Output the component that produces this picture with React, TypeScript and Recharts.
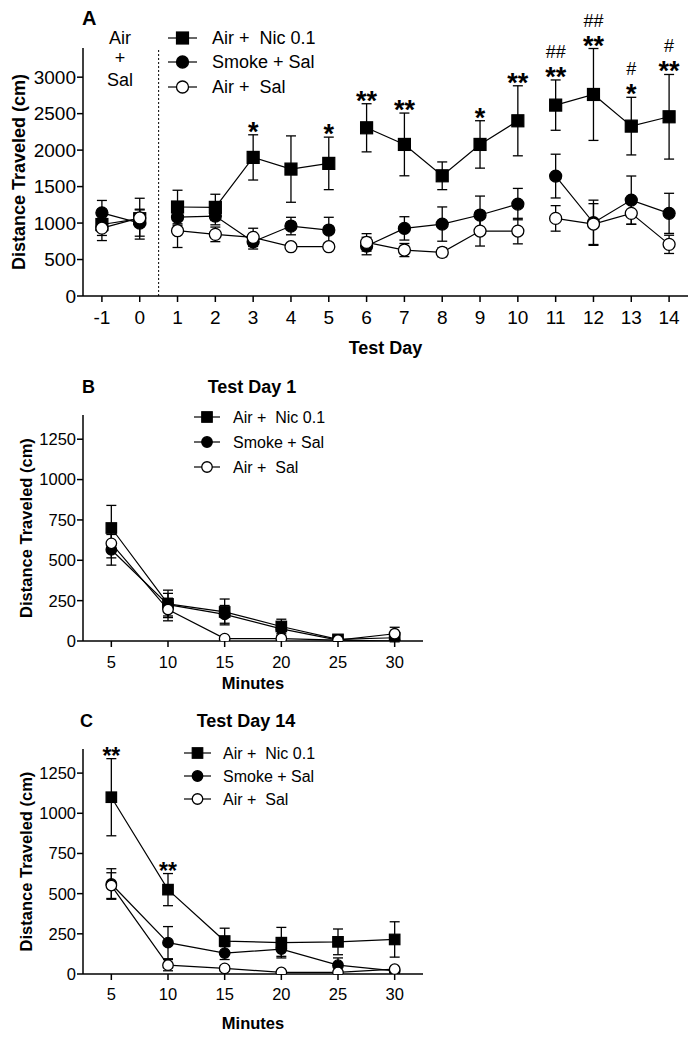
import React from 'react';
import { LineChart, Line, XAxis, YAxis, ErrorBar, ReferenceLine, LabelList, Label } from 'recharts';

const FONT = '"Liberation Sans", Arial, Helvetica, sans-serif';

// ---------- Panel A data ----------
const DAYS = [-1, 0, 1, 2, 3, 4, 5, 6, 7, 8, 9, 10, 11, 12, 13, 14];
const DAY_SEGMENTS = [[-1, 0], [1, 5], [6, 10], [11, 14]];
const NIC_A = [980, 1060, 1220, 1215, 1900, 1740, 1818, 2306, 2078, 1648, 2078, 2402, 2617, 2763, 2329, 2457];
const NIC_A_SEM = [150, 280, 230, 180, 310, 455, 360, 330, 430, 190, 325, 480, 345, 630, 395, 580];
const SMOKE_A = [1140, 1000, 1080, 1096, 744, 959, 904, 685, 927, 986, 1110, 1260, 1644, 1004, 1315, 1133];
const SMOKE_A_SEM = [170, 180, 110, 120, 100, 120, 175, 120, 160, 235, 260, 215, 300, 310, 330, 275];
const AIRSAL_A = [930, 1070, 895, 845, 804, 676, 676, 735, 630, 598, 890, 890, 1064, 986, 1133, 708];
const AIRSAL_A_SEM = [170, 120, 230, 100, 125, 30, 30, 120, 90, 60, 205, 175, 175, 280, 150, 125];
const STARS_A = ['', '', '', '', '*', '', '*', '**', '**', '', '*', '**', '**', '**', '*', '**'];
const HASH_A = ['', '', '', '', '', '', '', '', '', '', '', '', '##', '##', '#', '#'];
const Y_TICKS_A = [0, 500, 1000, 1500, 2000, 2500, 3000];

// ---------- Panel B data (Test Day 1) ----------
const MINUTES = [5, 10, 15, 20, 25, 30];
const NIC_B = [700, 230, 180, 90, 10, 20];
const NIC_B_SEM = [140, 85, 80, 45, 10, 10];
const SMOKE_B = [565, 225, 165, 75, 5, 0];
const SMOKE_B_SEM = [95, 70, 55, 40, 5, 5];
const AIRSAL_B = [605, 195, 15, 15, 5, 45];
const AIRSAL_B_SEM = [90, 70, 10, 10, 5, 40];
const STARS_B = ['', '', '', '', '', ''];

// ---------- Panel C data (Test Day 14) ----------
const NIC_C = [1100, 525, 205, 195, 200, 215];
const NIC_C_SEM = [240, 100, 80, 95, 80, 110];
const SMOKE_C = [560, 195, 130, 155, 55, 20];
const SMOKE_C_SEM = [95, 100, 40, 45, 45, 10];
const AIRSAL_C = [550, 55, 35, 10, 10, 30];
const AIRSAL_C_SEM = [80, 35, 15, 10, 10, 10];
const STARS_C = ['**', '**', '', '', '', ''];
const Y_TICKS_BC = [0, 250, 500, 750, 1000, 1250];

const SERIES_NAMES = ['Air +  Nic 0.1', 'Smoke + Sal', 'Air +  Sal'];
const SERIES = [
  { key: 'nic', shape: 'square', fill: '#000' },
  { key: 'smoke', shape: 'circle', fill: '#000' },
  { key: 'airsal', shape: 'circle', fill: '#fff' },
];

const buildRows = (xs, xKey, nic, nicSem, smoke, smokeSem, airsal, airsalSem, stars, hashes) =>
  xs.map((x, i) => ({
    [xKey]: x,
    nic: nic[i], nicErr: nicSem[i],
    smoke: smoke[i], smokeErr: smokeSem[i],
    airsal: airsal[i], airsalErr: airsalSem[i],
    starY: stars[i] || (hashes && hashes[i]) ? nic[i] + nicSem[i] : null,
    star: stars[i],
    hash: hashes ? hashes[i] : '',
  }));

const rowsA = buildRows(DAYS, 'x', NIC_A, NIC_A_SEM, SMOKE_A, SMOKE_A_SEM, AIRSAL_A, AIRSAL_A_SEM, STARS_A, HASH_A);
const segmentsA = DAY_SEGMENTS.map(([a, b]) => rowsA.filter((r) => r.x >= a && r.x <= b));
const rowsB = buildRows(MINUTES, 'x', NIC_B, NIC_B_SEM, SMOKE_B, SMOKE_B_SEM, AIRSAL_B, AIRSAL_B_SEM, STARS_B, null);
const rowsC = buildRows(MINUTES, 'x', NIC_C, NIC_C_SEM, SMOKE_C, SMOKE_C_SEM, AIRSAL_C, AIRSAL_C_SEM, STARS_C, null);

const makeDot = (shape, fill, size, tag) => (props) => {
  const { cx, cy, index } = props;
  const k = `${tag}-${index}`;
  if (cx == null || cy == null || isNaN(cy)) return <g key={k} />;
  if (shape === 'square')
    return <rect key={k} x={cx - size / 2} y={cy - size / 2} width={size} height={size} fill={fill} stroke="#000" strokeWidth={1.2} />;
  return <circle key={k} cx={cx} cy={cy} r={size / 2} fill={fill} stroke="#000" strokeWidth={1.3} />;
};

const starContent = (fontSize, dy, bold) => (props) => {
  const { x, y, value } = props;
  if (!value || y == null || isNaN(y)) return null;
  return (
    <text x={x} y={y + dy} textAnchor="middle" fontFamily={FONT} fontSize={fontSize} fontWeight={bold ? 'bold' : 'normal'} fill="#000">
      {value}
    </text>
  );
};

const yLabelContent = (cxAbs, size) => (props) => {
  const vb = props.viewBox || {};
  const cy = vb.y + vb.height / 2;
  return (
    <text x={cxAbs} y={cy} transform={`rotate(-90 ${cxAbs} ${cy})`} textAnchor="middle" dominantBaseline="central"
      fontFamily={FONT} fontSize={size} fontWeight="bold" fill="#000">
      Distance Traveled (cm)
    </text>
  );
};

const xLabelContent = (text, dyAbs, size) => (props) => {
  const vb = props.viewBox || {};
  const cx = vb.x + vb.width / 2;
  return (
    <text x={cx} y={vb.y + dyAbs} textAnchor="middle" dominantBaseline="central" fontFamily={FONT} fontSize={size} fontWeight="bold" fill="#000">
      {text}
    </text>
  );
};

function seriesLines(segments, markerSize, tagBase) {
  const out = [];
  SERIES.forEach((s) => {
    segments.forEach((seg, si) => {
      out.push(
        <Line key={`${tagBase}-${s.key}-${si}`} data={seg} dataKey={s.key} type="linear" stroke="#000" strokeWidth={1.2}
          dot={makeDot(s.shape, s.fill, markerSize, `${tagBase}-${s.key}-${si}`)} activeDot={false} isAnimationActive={false} legendType="none">
          <ErrorBar dataKey={`${s.key}Err`} width={5} stroke="#000" strokeWidth={1.3} direction="y" />
        </Line>
      );
    });
  });
  return out;
}

const axisLine = { stroke: '#000', strokeWidth: 1.5 };
const tickLine = { stroke: '#000', strokeWidth: 1.5 };

function PanelA() {
  return (
    <LineChart width={695} height={360} margin={{ top: 48, right: 7, bottom: 24, left: 23 }}>
      <XAxis type="number" dataKey="x" domain={[-1.5, 14.5]} ticks={DAYS} allowDataOverflow
        axisLine={axisLine} tickLine={tickLine} tickSize={6} tickMargin={9} height={40}
        tick={{ fill: '#000', fontSize: 19, fontFamily: FONT }}>
        <Label content={xLabelContent('Test Day', 52, 18)} />
      </XAxis>
      <YAxis type="number" domain={[0, 3400]} ticks={Y_TICKS_A} allowDataOverflow width={60}
        axisLine={axisLine} tickLine={tickLine} tickSize={6} tickMargin={1}
        tick={{ fill: '#000', fontSize: 19, fontFamily: FONT }}>
        <Label content={yLabelContent(19, 18)} />
      </YAxis>
      <ReferenceLine x={0.5} stroke="#000" strokeWidth={1} strokeDasharray="2 2" ifOverflow="extendDomain" />
      {seriesLines(segmentsA, 12, 'a')}
      <Line data={rowsA} dataKey="starY" stroke="none" dot={false} activeDot={false} isAnimationActive={false} legendType="none">
        <LabelList dataKey="star" content={starContent(27, 6, true)} />
        <LabelList dataKey="hash" content={starContent(18, -22, false)} />
      </Line>
    </LineChart>
  );
}

function PanelBC({ rows, height, marginTop, marginBottom, tickMargin, xLabelDy, starSize }) {
  return (
    <LineChart width={430} height={height} margin={{ top: marginTop, right: 7, bottom: marginBottom, left: 23 }}>
      <XAxis type="number" dataKey="x" domain={[2.5, 32.5]} ticks={MINUTES} allowDataOverflow
        axisLine={axisLine} tickLine={tickLine} tickSize={6} tickMargin={tickMargin} height={40}
        tick={{ fill: '#000', fontSize: 16.5, fontFamily: FONT }}>
        <Label content={xLabelContent('Minutes', xLabelDy, 16.5)} />
      </XAxis>
      <YAxis type="number" domain={[0, 1400]} ticks={Y_TICKS_BC} allowDataOverflow width={60}
        axisLine={axisLine} tickLine={tickLine} tickSize={6} tickMargin={1}
        tick={{ fill: '#000', fontSize: 16.5, fontFamily: FONT }}>
        <Label content={yLabelContent(26, 16.5)} />
      </YAxis>
      {seriesLines([rows], 10.5, 'bc')}
      <Line data={rows} dataKey="starY" stroke="none" dot={false} activeDot={false} isAnimationActive={false} legendType="none">
        <LabelList dataKey="star" content={starContent(starSize, 5, true)} />
      </Line>
    </LineChart>
  );
}

function LegendIcons({ x0, x1, textX, ys, fontSize, marker }) {
  const cx = (x0 + x1) / 2;
  return (
    <g>
      {SERIES.map((s, i) => (
        <g key={s.key}>
          <line x1={x0} x2={x1} y1={ys[i]} y2={ys[i]} stroke="#000" strokeWidth={1.2} />
          {s.shape === 'square' ? (
            <rect x={cx - marker / 2} y={ys[i] - marker / 2} width={marker} height={marker} fill={s.fill} stroke="#000" strokeWidth={1.2} />
          ) : (
            <circle cx={cx} cy={ys[i]} r={marker / 2} fill={s.fill} stroke="#000" strokeWidth={1.3} />
          )}
          <text x={textX} y={ys[i]} dominantBaseline="central" fontFamily={FONT} fontSize={fontSize} fill="#000" style={{ whiteSpace: 'pre' }}>
            {SERIES_NAMES[i]}
          </text>
        </g>
      ))}
    </g>
  );
}

function Overlay() {
  const T = (x, y, txt, size, bold, anchor = 'middle') => (
    <text x={x} y={y} textAnchor={anchor} dominantBaseline="central" fontFamily={FONT} fontSize={size}
      fontWeight={bold ? 'bold' : 'normal'} fill="#000">{txt}</text>
  );
  return (
    <svg width={695} height={1040} style={{ position: 'absolute', left: 0, top: 0, pointerEvents: 'none' }}>
      {T(82, 18, 'A', 20, true, 'start')}
      {T(120, 38, 'Air', 18, false)}
      {T(120, 58, '+', 18, false)}
      {T(120, 80, 'Sal', 18, false)}
      <LegendIcons x0={168} x1={197} textX={212} ys={[38, 62, 87]} fontSize={18} marker={12} />
      {T(82, 387, 'B', 18, true, 'start')}
      {T(252, 387, 'Test Day 1', 18, true)}
      <LegendIcons x0={194} x1={220} textX={233} ys={[417, 442, 467]} fontSize={16} marker={10.5} />
      {T(80, 721, 'C', 18, true, 'start')}
      {T(246, 721, 'Test Day 14', 18, true)}
      <LegendIcons x0={184} x1={211} textX={223} ys={[753, 776, 799]} fontSize={16} marker={10.5} />
    </svg>
  );
}

export default function App() {
  return (
    <div style={{ position: 'absolute', left: 0, top: 0, width: 695, height: 1040, background: '#fff', fontFamily: FONT }}>
      <div style={{ position: 'absolute', left: 0, top: 0 }}>
        <PanelA />
      </div>
      <div style={{ position: 'absolute', left: 0, top: 360 }}>
        <PanelBC rows={rowsB} height={340} marginTop={55} marginBottom={19} tickMargin={9} xLabelDy={42} starSize={23} />
      </div>
      <div style={{ position: 'absolute', left: 0, top: 690 }}>
        <PanelBC rows={rowsC} height={350} marginTop={59} marginBottom={26} tickMargin={8} xLabelDy={49} starSize={23} />
      </div>
      <Overlay />
    </div>
  );
}
